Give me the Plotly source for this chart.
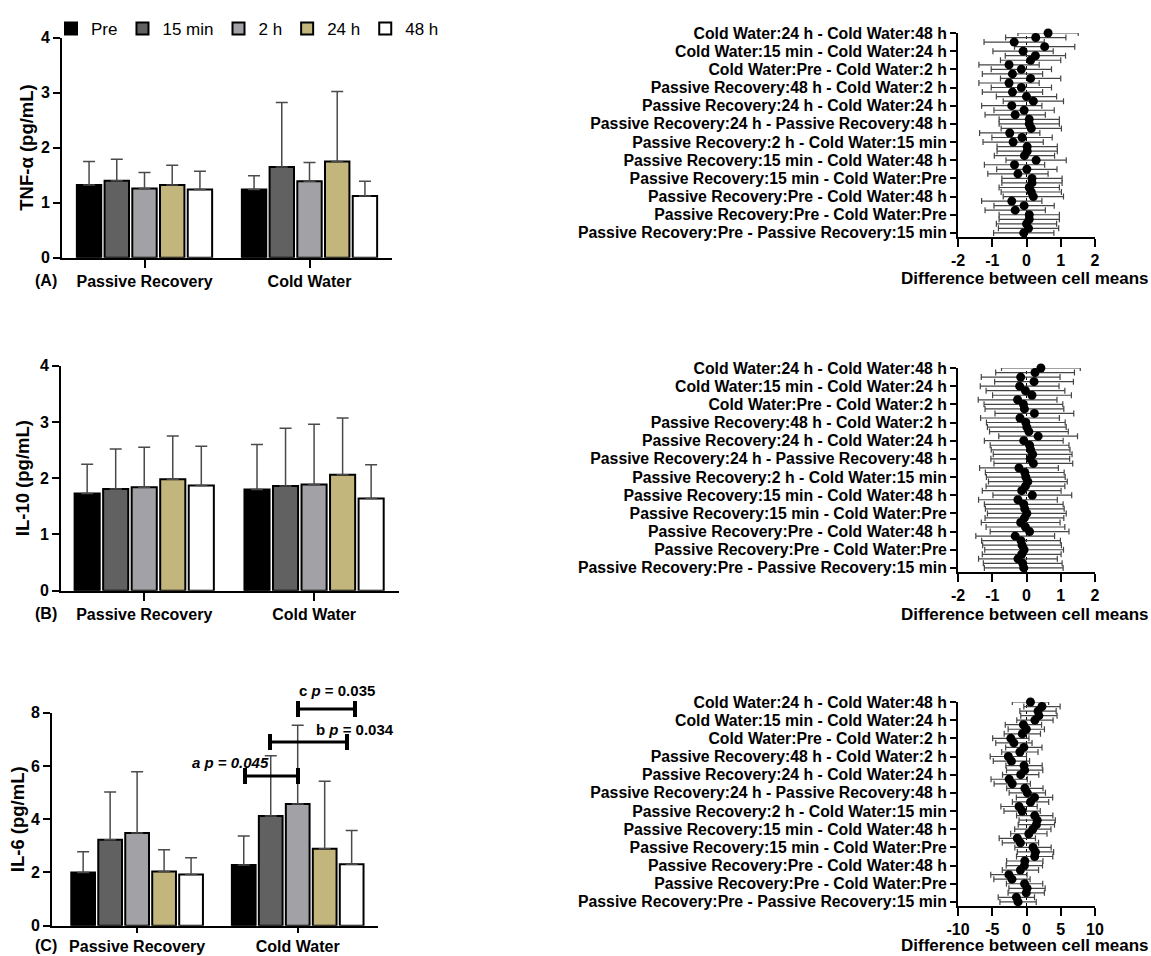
import plotly.graph_objects as go
from itertools import combinations

W, H = 1151, 956
FONT = "Arial, Liberation Sans, sans-serif"

# ---------------- data ----------------
times = ["Pre", "15 min", "2 h", "24 h", "48 h"]
groups = ["Passive Recovery", "Cold Water"]
bar_colors = ["#000000", "#616161", "#a2a2a6", "#c3b67d", "#ffffff"]

tnf_pr_mean = [1.32, 1.40, 1.26, 1.32, 1.24]
tnf_pr_sd = [0.43, 0.39, 0.29, 0.36, 0.33]
tnf_cw_mean = [1.24, 1.65, 1.39, 1.75, 1.12]
tnf_cw_sd = [0.25, 1.17, 0.34, 1.27, 0.27]

il10_pr_mean = [1.73, 1.81, 1.84, 1.98, 1.87]
il10_pr_sd = [0.52, 0.71, 0.71, 0.77, 0.70]
il10_cw_mean = [1.80, 1.86, 1.89, 2.06, 1.64]
il10_cw_sd = [0.80, 1.03, 1.07, 1.01, 0.60]

il6_pr_mean = [2.00, 3.23, 3.48, 2.04, 1.92]
il6_pr_sd = [0.78, 1.79, 2.30, 0.81, 0.63]
il6_cw_mean = [2.28, 4.12, 4.57, 2.89, 2.31]
il6_cw_sd = [1.09, 2.26, 2.96, 2.54, 1.27]

# differences between cell means (Tukey), in comparison order
tnf_diff = [-0.08, 0.06, 0.00, 0.08, 0.08, -0.33, -0.07, -0.43, 0.20,
            0.14, 0.08, 0.16, 0.16, -0.25, 0.01, -0.35, 0.28,
            -0.06, 0.02, 0.02, -0.39, -0.13, -0.49, 0.14,
            0.08, 0.08, -0.33, -0.07, -0.43, 0.20,
            0.00, -0.41, -0.15, -0.51, 0.12,
            -0.41, -0.15, -0.51, 0.12,
            0.26, -0.10, 0.53,
            -0.36, 0.27,
            0.63]
il10_diff = [-0.08, -0.11, -0.25, -0.14, -0.07, -0.13, -0.16, -0.33, 0.09,
             -0.03, -0.17, -0.06, 0.01, -0.05, -0.08, -0.25, 0.17,
             -0.14, -0.03, 0.04, -0.02, -0.05, -0.22, 0.20,
             0.11, 0.18, 0.12, 0.09, -0.08, 0.34,
             0.07, 0.01, -0.02, -0.19, 0.23,
             -0.06, -0.09, -0.26, 0.16,
             -0.03, -0.20, 0.22,
             -0.17, 0.25,
             0.42]
il6_diff = [-1.23, -1.48, -0.04, 0.08, -0.28, -2.12, -2.57, -0.89, -0.31,
            -0.25, 1.19, 1.31, 0.95, -0.89, -1.34, 0.34, 0.92,
            1.44, 1.56, 1.20, -0.64, -1.09, 0.59, 1.17,
            0.12, -0.24, -2.08, -2.53, -0.85, -0.27,
            -0.36, -2.20, -2.65, -0.97, -0.39,
            -1.84, -2.29, -0.61, -0.03,
            -0.45, 1.23, 1.81,
            1.68, 2.26,
            0.58]
tnf_ci = 0.88
il10_ci = 1.15
il6_ci = 2.65

tnf_ticks = [-2, -1, 0, 1, 2]
il10_ticks = [-2, -1, 0, 1, 2]
il6_ticks = [-10, -5, 0, 5, 10]

sig_labels = ["<b><i>a p = 0.045</i></b>", "<b>b <i>p</i> = 0.034</b>", "<b>c <i>p</i> = 0.035</b>"]

cells = [f"{g}:{t}" for g in groups for t in times]
comparisons = [f"{a} - {b}" for a, b in combinations(cells, 2)]
labeled = comparisons[::4]

# ---------------- layout helpers (window pixels -> paper) ----------------
def px_x(p):
    return p / W

def px_y(p):
    return 1 - p / H

fig = go.Figure()

panels = [
    dict(title="TNF-α (pg/mL)", pr=tnf_pr_mean, prsd=tnf_pr_sd, cw=tnf_cw_mean, cwsd=tnf_cw_sd,
         diff=tnf_diff, ci=tnf_ci, yr=[0, 4], ydt=1, fticks=tnf_ticks, letter="(A)",
         bx=(62, 392), by=(37.7, 257.7), xr=[-0.5, 1.5], fy=(33, 237), lab_y=280,
         ytx=27, xt_y=278, xtl=8),
    dict(title="IL-10 (pg/mL)", pr=il10_pr_mean, prsd=il10_pr_sd, cw=il10_cw_mean, cwsd=il10_cw_sd,
         diff=il10_diff, ci=il10_ci, yr=[0, 4], ydt=1, fticks=il10_ticks, letter="(B)",
         bx=(61, 399), by=(365.7, 590.7), xr=[-0.49, 1.5], fy=(368, 572), lab_y=613,
         ytx=22, xt_y=614, xtl=8),
    dict(title="IL-6 (pg/mL)", pr=il6_pr_mean, prsd=il6_pr_sd, cw=il6_cw_mean, cwsd=il6_cw_sd,
         diff=il6_diff, ci=il6_ci, yr=[0, 8], ydt=2, fticks=il6_ticks, letter="(C)",
         bx=(52, 378), by=(712.7, 925.7), xr=[-0.53, 1.5], fy=(702, 906), lab_y=945,
         ytx=17, xt_y=945, xtl=5),
]

axis_common = dict(showgrid=False, zeroline=False, showline=True, linecolor="black", linewidth=2,
                   ticks="outside", tickcolor="black", tickwidth=2, automargin=False,
                   tickfont=dict(family=FONT, size=16, color="black", weight="bold"))

annotations = []
shapes = []
layout_axes = {}

for k, p in enumerate(panels):
    bi = 2 * k + 1
    fi = 2 * k + 2
    bxa, bya = f"x{bi}", f"y{bi}"
    fxa, fya = f"x{fi}", f"y{fi}"
    for i, t in enumerate(times):
        fig.add_trace(go.Bar(
            x=groups, y=[p["pr"][i], p["cw"][i]], name=t,
            marker=dict(color=bar_colors[i], line=dict(color="black", width=2)),
            error_y=dict(type="data", symmetric=False, array=[p["prsd"][i], p["cwsd"][i]],
                         arrayminus=[0, 0], color="#4a4a4a", thickness=1.5, width=6),
            xaxis=bxa, yaxis=bya, showlegend=(k == 0), legendgroup=t, cliponaxis=False,
        ))
    fig.add_trace(go.Scatter(
        x=p["diff"], y=comparisons, mode="markers",
        marker=dict(size=9, color="black"),
        error_x=dict(type="constant", value=p["ci"], color="#454545", thickness=1.2, width=3),
        xaxis=fxa, yaxis=fya, showlegend=False, cliponaxis=False,
    ))
    bxk = "xaxis" if bi == 1 else f"xaxis{bi}"
    byk = "yaxis" if bi == 1 else f"yaxis{bi}"
    layout_axes[bxk] = dict(axis_common, domain=[px_x(p["bx"][0]), px_x(p["bx"][1])],
                            anchor=bya, range=p["xr"], ticklen=p["xtl"], type="category")
    layout_axes[byk] = dict(axis_common, domain=[px_y(p["by"][1]), px_y(p["by"][0])],
                            anchor=bxa, range=p["yr"], dtick=p["ydt"], ticklen=7)
    ft = p["fticks"]
    layout_axes[f"xaxis{fi}"] = dict(axis_common, domain=[px_x(958), px_x(1095)], anchor=fya,
                                     range=[ft[0], ft[-1]], tickvals=ft,
                                     ticktext=[str(v) for v in ft], ticklen=8)
    layout_axes[f"yaxis{fi}"] = dict(axis_common, domain=[px_y(p["fy"][1]), px_y(p["fy"][0])],
                                     anchor=fxa, type="category", categoryorder="array",
                                     categoryarray=comparisons, tickvals=labeled, range=[-0.9, 44],
                                     ticklen=6,
                                     tickfont=dict(family=FONT, size=15.8, color="black", weight="bold"))
    shapes.append(dict(type="line", xref=fxa, yref=f"y{fi} domain", x0=0, x1=0, y0=0, y1=1,
                       line=dict(color="black", width=1, dash="dot"), layer="below"))
    # panel letter
    annotations.append(dict(text=f"<b>{p['letter']}</b>", xref="paper", yref="paper",
                            x=px_x(46), y=px_y(p["lab_y"]), xanchor="center", yanchor="middle",
                            showarrow=False, font=dict(family=FONT, size=16, color="black")))
    # y title of bar chart
    annotations.append(dict(text=f"<b>{p['title']}</b>", xref="paper", yref="paper",
                            x=px_x(p["ytx"]), y=(px_y(p["by"][0]) + px_y(p["by"][1])) / 2,
                            xanchor="center", yanchor="middle", textangle=-90, showarrow=False,
                            font=dict(family=FONT, size=18.5, color="black")))
    # x title of forest plot
    annotations.append(dict(text="<b>Difference between cell means</b>", xref="paper", yref="paper",
                            x=px_x(1025), y=px_y(p["xt_y"]), xanchor="center", yanchor="middle",
                            showarrow=False, font=dict(family=FONT, size=17, color="black")))

# significance brackets for panel C (window pixel positions converted to paper)
brackets = [(245, 298, 776), (270, 347, 742), (298, 355, 709)]
sig_text_pos = [(230, 762), (355, 729), (337, 690)]
for (x0, x1, yb), (tx, ty), lab in zip(brackets, sig_text_pos, sig_labels):
    shapes.append(dict(type="line", xref="paper", yref="paper", x0=px_x(x0), x1=px_x(x1),
                       y0=px_y(yb), y1=px_y(yb), line=dict(color="black", width=3)))
    for xe in (x0, x1):
        shapes.append(dict(type="line", xref="paper", yref="paper", x0=px_x(xe), x1=px_x(xe),
                           y0=px_y(yb - 8), y1=px_y(yb + 8), line=dict(color="black", width=4)))
    annotations.append(dict(text=lab, xref="paper", yref="paper", x=px_x(tx), y=px_y(ty),
                            xanchor="center", yanchor="middle",
                            showarrow=False, font=dict(family=FONT, size=15, color="black")))

fig.update_layout(
    width=W, height=H, autosize=False,
    margin=dict(l=0, r=0, t=0, b=0, autoexpand=False),
    paper_bgcolor="white", plot_bgcolor="white",
    barmode="group", bargap=0.16, bargroupgap=0.12,
    font=dict(family=FONT, color="black"),
    legend=dict(orientation="h", x=px_x(51), y=px_y(11), xanchor="left", yanchor="top",
                font=dict(family=FONT, size=17, color="black"), bgcolor="rgba(0,0,0,0)",
                traceorder="normal"),
    shapes=shapes, annotations=annotations,
    **layout_axes,
)

# remove the default page margin so the 1151x956 figure fills the window exactly
fig.write_html("out.html", config={"displayModeBar": False},
               post_script="document.body.style.margin='0';document.body.style.overflow='hidden';")
